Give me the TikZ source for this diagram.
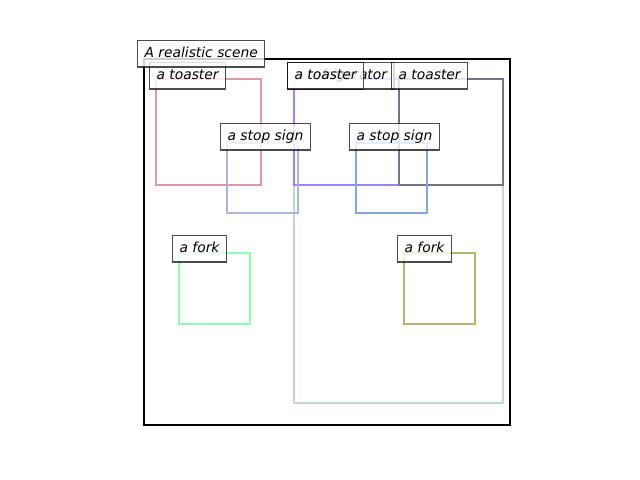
\documentclass[tikz,border=0pt]{standalone}
\usepackage{fontspec}
\setmainfont{DejaVu Sans}
\usepackage{tikz}

\definecolor{toasterred}{RGB}{222,154,158}
\definecolor{toasterviolet}{RGB}{168,124,248}
\definecolor{toasterslate}{RGB}{112,116,138}
\definecolor{fridgeteal}{RGB}{190,216,210}
\definecolor{stoplav}{RGB}{170,182,224}
\definecolor{stopblue}{RGB}{128,168,219}
\definecolor{forkgreen}{RGB}{140,252,174}
\definecolor{forkolive}{RGB}{180,180,106}

\begin{document}
\begin{tikzpicture}[x=0.254mm,y=-0.254mm]

\tikzstyle{every node}=[font=\itshape\fontsize{10}{12}\selectfont]
\tikzstyle{lbl}=[anchor=north west, draw=black, draw opacity=0.7,
	fill=white, fill opacity=0.8, text opacity=1,
	inner xsep=5pt, inner ysep=4.5pt,
	text height=7.6pt, text depth=2.4pt, line width=0.9pt]
\tikzstyle{bbox}=[line width=1.8pt]

\useasboundingbox (0,0) rectangle (640,480);

% scene frame
\draw[line width=1.5pt] (144,59) rectangle (510,425);

% detections
\draw[bbox, toasterred] (156,79) rectangle (261,185);
\draw[bbox, fridgeteal] (294,79) rectangle (503,403);
\draw[bbox, toasterviolet] (294,79) rectangle (399,185);
\draw[bbox, toasterslate] (399,79) rectangle (503,185);
\draw[bbox, stoplav] (227,143) rectangle (298,213);
\draw[bbox, stopblue] (356,143) rectangle (427,213);
\draw[bbox, forkgreen] (179,253) rectangle (250,324);
\draw[bbox, forkolive] (404,253) rectangle (475,324);

% labels
\node[lbl] (fridge) at (287,62) {a refrigerator};
\node[lbl] (toasterA) at (149,62) {a toaster};
\node[lbl] (toasterB) at (287,62) {a toaster};
\node[lbl] (toasterC) at (391,62) {a toaster};
\node[lbl] (stopA) at (220,123) {a stop sign};
\node[lbl] (stopB) at (349,123) {a stop sign};
\node[lbl] (forkA) at (172,235) {a fork};
\node[lbl] (forkB) at (397,235) {a fork};
\node[lbl] (title) at (137,40) {A realistic scene};
\end{tikzpicture}
\end{document}
